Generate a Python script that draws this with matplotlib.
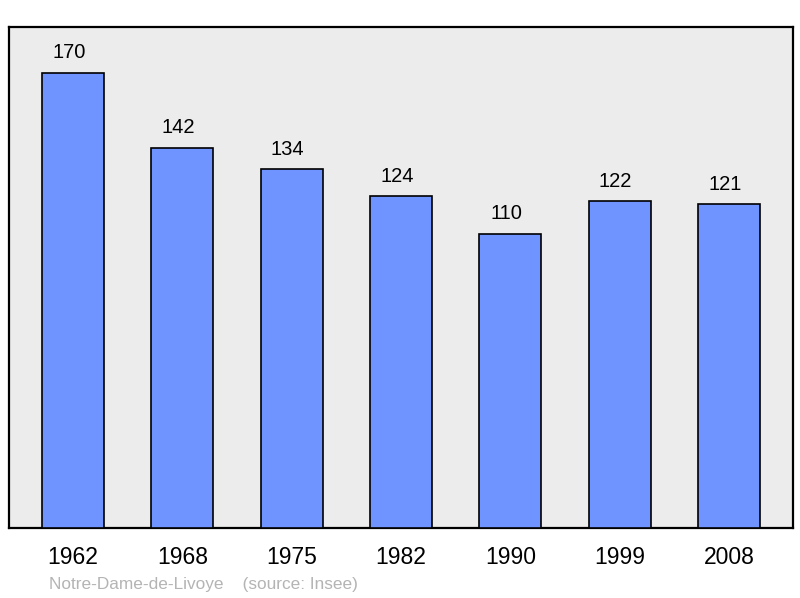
import matplotlib.pyplot as plt

plt.rcParams['font.family'] = ['Liberation Sans', 'DejaVu Sans']

# data
annees = ['1962', '1968', '1975', '1982', '1990', '1999', '2008']
population = [170, 142, 134, 124, 110, 122, 121]
commune = 'Notre-Dame-de-Livoye'
source = '(source: Insee)'

fig = plt.figure(figsize=(8, 5.98), dpi=100)
ax = fig.add_axes([9/800, 1 - 528/598, 784/800, 501/598])
ax.set_facecolor('#ececec')

x = range(len(annees))
barres = ax.bar(x, population, width=0.567, color='#7094ff',
                edgecolor='black', linewidth=1.2, zorder=3)

for xi, v in zip(x, population):
    ax.annotate(str(v), (xi, v), xytext=(-3, 14.5), textcoords='offset points',
                ha='center', va='center', fontsize=14.5)

ax.set_xlim(-0.585, len(annees) - 1 + 0.585)
ax.set_ylim(0, 187.2)
ax.set_xticks(list(x))
ax.set_xticklabels(annees, fontsize=16.5)
ax.tick_params(axis='x', length=0, pad=13)
ax.set_yticks([])
for s in ax.spines.values():
    s.set_linewidth(1.6)
    s.set_color('black')

fig.text(49/800, 1 - 585/598, commune + '    ' + source, color='#b4b4b4',
         fontsize=12.4, va='center', ha='left')

plt.savefig('out.png', dpi=100)
